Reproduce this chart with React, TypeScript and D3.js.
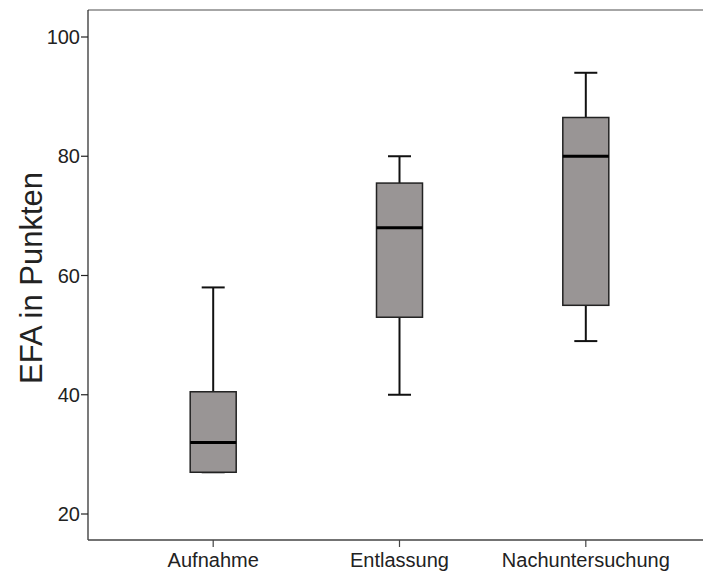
import React from 'react'
import * as d3 from 'd3'

// box plot stats
const categories = ['Aufnahme', 'Entlassung', 'Nachuntersuchung']
const mins = [27, 40, 49]
const q1s = [27, 53, 55]
const medians = [32, 68, 80]
const q3s = [40.5, 75.5, 86.5]
const maxs = [58, 80, 94]
const yTicks = [20, 40, 60, 80, 100]

const width = 703
const height = 577
const left = 88
const top = 10
const bottom = 540

const App = () => {
    const x = d3.scalePoint<string>()
        .domain(categories)
        .range([left, 711])
        .padding(0.672)

    const y = d3.scaleLinear()
        .domain([20, 100])
        .range([514, 37])

    const boxW = 46
    const capW = 23
    const font = '"Liberation Sans", Arial, sans-serif'

    return (
        <svg width={width} height={height}
            style={{ position: 'absolute', left: 0, top: 0, background: '#fff' }}
            fontFamily={font}>
            {/* frame */}
            <line x1={left} x2={width} y1={top} y2={top} stroke='#888' strokeWidth={1.5} />
            <line x1={left} x2={left} y1={top} y2={bottom} stroke='#222' strokeWidth={1.2} />
            <line x1={left} x2={width} y1={bottom} y2={bottom} stroke='#444' strokeWidth={1.5} />

            {/* y ticks */}
            {yTicks.map(t => (
                <g key={t} transform={`translate(0, ${y(t)})`}>
                    <line x1={left - 7} x2={left} stroke='#222' strokeWidth={1.2} />
                    <text x={left - 8} dy='0.35em' textAnchor='end' fontSize={20} fill='#222'>{t}</text>
                </g>
            ))}

            {/* x ticks */}
            {categories.map(c => (
                <g key={c} transform={`translate(${x(c)}, 0)`}>
                    <line y1={bottom} y2={bottom + 7} stroke='#444' strokeWidth={1.2} />
                    <text y={bottom + 27} textAnchor='middle' fontSize={20} fill='#222'>{c}</text>
                </g>
            ))}

            <text transform='translate(31, 278) rotate(-90)' textAnchor='middle'
                dominantBaseline='central' fontSize={31} fill='#222'>EFA in Punkten</text>

            {/* boxes */}
            {categories.map((c, i) => {
                const cx = x(c) as number
                return (
                    <g key={c}>
                        <line x1={cx} x2={cx} y1={y(maxs[i])} y2={y(q3s[i])} stroke='#111' strokeWidth={2} />
                        <line x1={cx} x2={cx} y1={y(q1s[i])} y2={y(mins[i])} stroke='#111' strokeWidth={2} />
                        <line x1={cx - capW / 2} x2={cx + capW / 2} y1={y(maxs[i])} y2={y(maxs[i])} stroke='#111' strokeWidth={2} />
                        <line x1={cx - capW / 2} x2={cx + capW / 2} y1={y(mins[i])} y2={y(mins[i])} stroke='#111' strokeWidth={2} />
                        <rect x={cx - boxW / 2} y={y(q3s[i])} width={boxW}
                            height={y(q1s[i]) - y(q3s[i])}
                            fill='#999595' stroke='#222' strokeWidth={1.5} />
                        <line x1={cx - boxW / 2} x2={cx + boxW / 2} y1={y(medians[i])} y2={y(medians[i])} stroke='#000' strokeWidth={3} />
                    </g>
                )
            })}
        </svg>
    )
}

export default App
